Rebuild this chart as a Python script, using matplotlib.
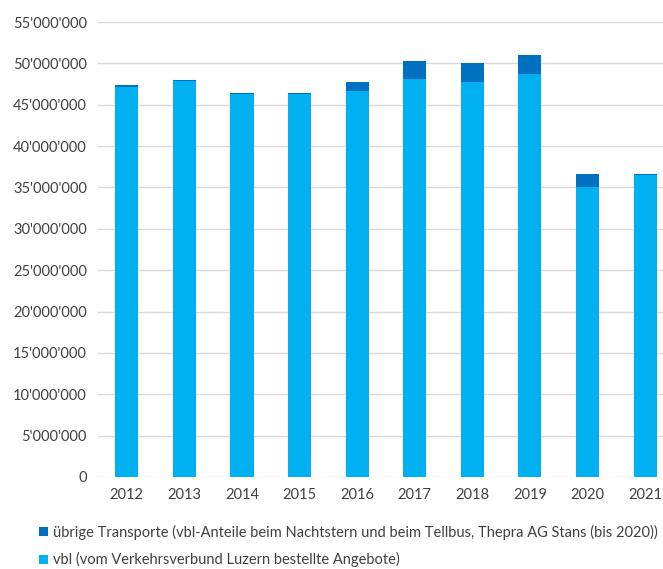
import matplotlib.pyplot as plt
import matplotlib.ticker as mticker
import numpy as np

plt.rcParams['font.family'] = ['Lato', 'DejaVu Sans']

years = ['2012', '2013', '2014', '2015', '2016', '2017', '2018', '2019', '2020', '2021']
vbl = [47.2, 47.9, 46.25, 46.3, 46.6, 48.1, 47.8, 48.75, 35.05, 36.5]
uebrige = [0.18, 0.12, 0.12, 0.15, 1.1, 2.2, 2.2, 2.25, 1.6, 0.18]
label_uebrige = 'übrige Transporte (vbl-Anteile beim Nachtstern und beim Tellbus, Thepra AG Stans (bis 2020))'
label_vbl = 'vbl (vom Verkehrsverbund Luzern bestellte Angebote)'

vbl = np.array(vbl) * 1e6
uebrige = np.array(uebrige) * 1e6
x = np.arange(len(years))

fig = plt.figure(figsize=(6.63, 5.69), dpi=100)
ax = fig.add_axes([98 / 663, 1 - 477 / 569, 565 / 663, 455 / 569])

b1 = ax.bar(x, vbl, width=0.4, color='#00B0F0', zorder=3)
b2 = ax.bar(x, uebrige, bottom=vbl, width=0.4, color='#0070C0', zorder=3)

ax.set_xlim(-0.5, 9.31)
ax.set_ylim(0, 55e6)
ax.set_yticks(np.arange(0, 55e6 + 1, 5e6))
ax.yaxis.set_major_formatter(mticker.FuncFormatter(lambda v, p: '{:,.0f}'.format(v).replace(',', "'")))
ax.set_xticks(x)
ax.set_xticklabels(years)
ax.grid(axis='y', color='#D9D9D9', linewidth=1, zorder=0)
for s in ax.spines.values():
    s.set_visible(False)
ax.tick_params(length=0, labelsize=10.5, colors='#404040', pad=8)

fig.legend([b2, b1], [label_uebrige, label_vbl], loc='upper left',
           bbox_to_anchor=(33 / 663, 1 - 519 / 569), frameon=False,
           fontsize=10.5, handlelength=0.6, handleheight=0.6, handletextpad=0.4,
           labelspacing=0.85, labelcolor='#404040', borderaxespad=0)

fig.savefig('out.png', dpi=100)
